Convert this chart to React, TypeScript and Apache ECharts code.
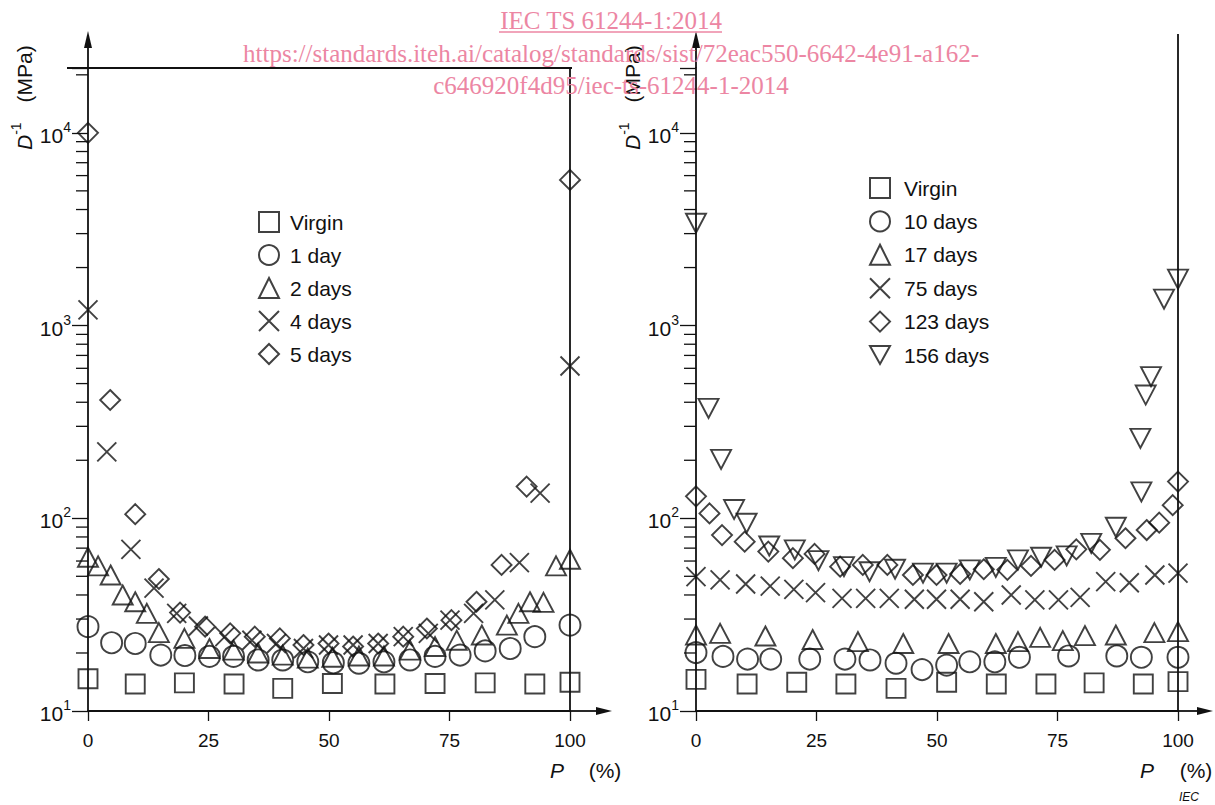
import React, { useEffect, useRef } from 'react';
import * as echarts from 'echarts';

// ---------- data ----------
const xTickValues = [0, 25, 50, 75, 100];
const yMinorTicks = [20, 30, 40, 50, 60, 70, 80, 90, 200, 300, 400, 500, 600, 700, 800, 900, 2000, 3000, 4000, 5000, 6000, 7000, 8000, 9000, 20000];

const leftNames = ['Virgin', '1 day', '2 days', '4 days', '5 days'];
const rightNames = ['Virgin', '10 days', '17 days', '75 days', '123 days', '156 days'];

// Left panel
const L_virgin = [[0, 14.7], [9.8, 13.8], [20, 14.0], [30.3, 13.8], [40.4, 13.1], [50.7, 13.9], [61.6, 13.8], [72, 13.9], [82.4, 14.0], [92.7, 13.8], [100, 14.1]];
const L_1day = [[0, 27.4], [4.9, 22.6], [9.8, 22.4], [15.1, 19.5], [20.1, 19.4], [25.2, 19.2], [30.2, 19.2], [35.3, 18.4], [40.4, 18.4], [45.6, 18.0], [50.9, 17.8], [56.2, 17.7], [61.4, 18.0], [66.8, 18.4], [72, 19.2], [77.2, 19.5], [82.4, 20.5], [87.6, 21.1], [92.7, 24.3], [100, 27.9]];
const L_2days = [[0, 62.8], [2.1, 56.6], [4.7, 50.8], [7.2, 40.0], [9.8, 36.9], [12.2, 32.1], [14.7, 25.5], [20, 23.8], [25.2, 21.1], [30.2, 20.7], [35.3, 20.0], [40.4, 19.5], [45.6, 18.8], [50.7, 19.0], [56.2, 19.3], [61.4, 19.3], [66.8, 20.7], [72, 21.6], [76.5, 23.3], [81.7, 24.8], [86.9, 27.9], [89.3, 32.1], [91.7, 36.9], [94.5, 36.6], [97.1, 56.6], [100, 61.3]];
const L_4days = [[0, 1206], [3.9, 221], [8.9, 69.0], [13.7, 43.4], [18.4, 32.1], [22.9, 27.6], [28.4, 24.3], [34, 23.3], [39.1, 22.4], [44.7, 21.1], [49.9, 22.0], [55.0, 22.0], [60.2, 22.4], [65.4, 24.3], [70.6, 25.3], [75.1, 29.6], [80, 32.1], [84.4, 37.7], [89.5, 58.9], [93.8, 135], [100, 617]];
const L_5days = [[0, 10000], [4.6, 411], [9.8, 105], [14.7, 48.4], [19.1, 32.4], [24.3, 27.4], [29.5, 25.3], [34.6, 24.3], [39.8, 23.8], [44.7, 22.0], [49.9, 22.4], [55, 21.6], [60.2, 22.4], [65.4, 24.3], [70.3, 26.8], [75.4, 29.6], [80.6, 36.9], [85.8, 57.3], [91, 146], [100, 5700]];

// Right panel
const R_virgin = [[0, 14.6], [10.6, 13.8], [20.9, 14.1], [31.1, 13.8], [41.5, 13.1], [52, 14.1], [62.3, 13.8], [72.6, 13.8], [82.6, 14.0], [92.8, 13.8], [100, 14.2]];
const R_10days = [[0, 20.1], [5.6, 19.2], [10.7, 18.6], [15.5, 18.6], [23.6, 18.6], [30.9, 18.6], [36.1, 18.4], [41.5, 17.7], [46.9, 16.4], [52, 17.3], [56.8, 18.0], [62, 18.0], [67.1, 19.0], [77.3, 19.3], [87.3, 19.3], [92.4, 19.0], [100, 19.0]];
const R_17days = [[0, 24.8], [5.0, 25.3], [14.4, 24.5], [24.2, 23.5], [33.6, 22.9], [43.0, 22.4], [52.4, 22.4], [62.2, 22.4], [66.8, 22.9], [71.4, 24.1], [76.1, 23.2], [80.7, 24.6], [87.1, 24.8], [95.1, 25.5], [100, 25.8]];
const R_75days = [[0, 49.8], [5.0, 47.9], [10.3, 45.6], [15.4, 44.5], [20.3, 42.8], [24.8, 41.1], [30.3, 38.4], [35.2, 38.4], [40.1, 38.4], [45.3, 38.0], [49.9, 38.0], [54.8, 38.0], [59.7, 36.9], [65.4, 40.0], [70.3, 37.7], [75.2, 37.7], [79.7, 38.9], [85.0, 46.9], [89.9, 46.3], [95.2, 50.8], [100, 51.9]];
const R_123days = [[0, 130], [2.8, 106], [5.4, 81.8], [10.1, 75.6], [15.0, 67.2], [20.1, 62.1], [24.6, 65.3], [29.9, 56.1], [34.6, 57.3], [39.7, 57.3], [45.0, 50.8], [49.9, 50.8], [54.8, 51.4], [59.7, 54.4], [64.6, 54.0], [69.5, 56.6], [74.4, 60.8], [78.9, 69.0], [83.8, 68.6], [89.1, 78.8], [93.5, 86.9], [96.1, 94.9], [98.9, 117], [100, 155]];
const R_156days = [[0, 3395], [2.6, 372], [5.2, 202], [7.9, 111], [10.5, 94.2], [15.2, 71.8], [20.5, 68.5], [25.4, 60.3], [30.7, 56.1], [36.0, 52.8], [41.3, 54.4], [47.1, 51.9], [52, 51.9], [56.8, 54.0], [62.2, 55.6], [66.8, 60.8], [71.6, 62.8], [76.9, 63.8], [82.0, 74.1], [87.1, 89.8], [92.4, 137], [92.2, 260], [93.3, 436], [94.4, 543], [97.1, 1371], [100, 1741]];

const leftData = [L_virgin, L_1day, L_2days, L_4days, L_5days];
const rightData = [R_virgin, R_10days, R_17days, R_75days, R_123days, R_156days];

// ---------- styles ----------
const SANS = 'Liberation Sans, Arial, sans-serif';
const SERIF = 'Liberation Serif, Times New Roman, serif';
const INK = '#111';
const PINK = '#ec86a3';

const SYM: Record<string, { symbol: string; size: number | number[] }> = {
  square: { symbol: 'rect', size: 19 },
  circle: { symbol: 'circle', size: 21 },
  tri: { symbol: 'triangle', size: [20, 19] },
  cross: { symbol: 'path://M0,0L20,20M20,0L0,20', size: 19 },
  diamond: { symbol: 'diamond', size: 20 },
  down: { symbol: 'path://M0,0L20,0L10,18Z', size: [20, 19] },
};
const leftSyms = ['square', 'circle', 'tri', 'cross', 'diamond'];
const rightSyms = ['square', 'circle', 'tri', 'cross', 'diamond', 'down'];

function scatter(name: string, data: number[][], sym: string, idx: number) {
  return {
    type: 'scatter',
    name,
    xAxisIndex: idx,
    yAxisIndex: idx,
    data,
    clip: false,
    symbol: SYM[sym].symbol,
    symbolSize: SYM[sym].size,
    itemStyle: { color: 'rgba(255,255,255,0)', borderColor: INK, borderWidth: 1.9 },
    emphasis: { disabled: true },
  };
}

function minorTickSeries(idx: number) {
  return {
    type: 'custom',
    xAxisIndex: idx,
    yAxisIndex: idx,
    silent: true,
    clip: false,
    data: yMinorTicks.map((v) => [0, v]),
    renderItem: (_p: any, api: any) => {
      const pt = api.coord([0, api.value(1)]);
      return {
        type: 'line',
        shape: { x1: pt[0] - 12, y1: pt[1], x2: pt[0], y2: pt[1] },
        style: { stroke: INK, lineWidth: 1.3 },
      };
    },
  };
}

function xAxis(idx: number) {
  return {
    type: 'value',
    gridIndex: idx,
    min: 0,
    max: 100,
    interval: 25,
    axisLine: { show: true, onZero: false, lineStyle: { color: INK, width: 1.8 } },
    axisTick: { show: true, length: 10, lineStyle: { color: INK, width: 1.3 } },
    axisLabel: { margin: 20, fontSize: 19, color: INK, fontFamily: SANS, formatter: (v: number) => (xTickValues.includes(v) ? String(v) : '') },
    splitLine: { show: false },
  };
}

function yAxis(idx: number) {
  return {
    type: 'log',
    logBase: 10,
    gridIndex: idx,
    min: 10,
    max: 21700,
    axisLine: { show: true, onZero: false, lineStyle: { color: INK, width: 1.8 } },
    axisTick: { show: true, length: 16, lineStyle: { color: INK, width: 1.3 } },
    axisLabel: {
      margin: 17,
      color: INK,
      formatter: (v: number) => {
        const e = Math.log10(v);
        if (Math.abs(e - Math.round(e)) > 0.01) return '';
        return `{b|10}{s|${Math.round(e)}}`;
      },
      rich: {
        b: { fontSize: 21, fontFamily: SANS, color: INK, lineHeight: 26, verticalAlign: 'bottom' },
        s: { fontSize: 14, fontFamily: SANS, color: INK, lineHeight: 26, verticalAlign: 'top' },
      },
    },
    splitLine: { show: false },
    minorTick: { show: false },
  };
}

function line(x1: number, y1: number, x2: number, y2: number, w = 1.8) {
  return { type: 'line', silent: true, shape: { x1, y1, x2, y2 }, style: { stroke: INK, lineWidth: w } };
}
function poly(points: number[][]) {
  return { type: 'polygon', silent: true, shape: { points }, style: { fill: INK } };
}
function yTitle(x: number, y: number) {
  return {
    type: 'text',
    x,
    y,
    rotation: Math.PI / 2,
    silent: true,
    style: {
      text: '{i|D}{s|-1}{g| }{n|(MPa)}',
      align: 'left',
      verticalAlign: 'middle',
      rich: {
        i: { fontSize: 21, fontFamily: SANS, fontStyle: 'italic', fill: INK, lineHeight: 26, verticalAlign: 'bottom' },
        s: { fontSize: 14, fontFamily: SANS, fill: INK, lineHeight: 26, verticalAlign: 'top' },
        g: { width: 20, fontSize: 14, lineHeight: 26 },
        n: { fontSize: 21, fontFamily: SANS, fill: INK, lineHeight: 26, verticalAlign: 'bottom' },
      },
    },
  };
}
function txt(text: string, x: number, y: number, size: number, opts: any = {}) {
  return {
    type: 'text',
    x,
    y,
    silent: true,
    style: { text, fontSize: size, fontFamily: SANS, fill: INK, align: 'center', verticalAlign: 'middle', ...opts },
  };
}

export default function App() {
  const ref = useRef<HTMLDivElement>(null);
  useEffect(() => {
    if (!ref.current) return;
    const chart = echarts.init(ref.current, undefined, { renderer: 'svg' });
    const series: any[] = [];
    leftNames.forEach((n, i) => series.push(scatter(n, leftData[i], leftSyms[i], 0)));
    rightNames.forEach((n, i) => series.push(scatter(n, rightData[i], rightSyms[i], 1)));
    series.push(minorTickSeries(0));
    series.push(minorTickSeries(1));

    const legendCommon = {
      orient: 'vertical',
      selectedMode: false,
      padding: 0,
      itemWidth: 20,
      itemHeight: 20,
    };

    chart.setOption({
      animation: false,
      backgroundColor: '#fff',
      grid: [
        { left: 88, right: 1215 - 570, top: 68, bottom: 805 - 711 },
        { left: 696, right: 1215 - 1178, top: 68, bottom: 805 - 711 },
      ],
      xAxis: [xAxis(0), xAxis(1)],
      yAxis: [yAxis(0), yAxis(1)],
      legend: [
        {
          ...legendCommon, left: 258, top: 211, itemGap: 33 - 22, data: leftNames,
          textStyle: { fontSize: 21, fontFamily: SANS, color: INK, lineHeight: 22, padding: [0, 0, 0, 6] },
        },
        {
          ...legendCommon, left: 869, top: 177, itemGap: 33.4 - 22, data: rightNames,
          textStyle: { fontSize: 21, fontFamily: SANS, color: INK, lineHeight: 22, padding: [0, 0, 0, 9] },
        },
      ],
      series,
      graphic: [
        // left panel frame and arrows
        line(67, 68, 572, 68),
        line(570, 68, 570, 711),
        line(88, 68, 88, 46),
        poly([[88, 31], [84, 48], [92, 48]]),
        line(570, 711, 598, 711),
        poly([[612, 711], [596, 707], [596, 715]]),
        // right panel frame and arrows
        line(1178, 34, 1178, 711),
        line(696, 68, 696, 46),
        poly([[696, 31], [692, 48], [700, 48]]),
        line(1178, 711, 1200, 711),
        poly([[1213, 711], [1197, 707], [1197, 715]]),
        // axis titles
        yTitle(22, 150),
        yTitle(630, 150),
        txt('P', 557, 770, 21, { fontStyle: 'italic' }),
        txt('(%)', 605, 770, 21),
        txt('P', 1147, 770, 21, { fontStyle: 'italic' }),
        txt('(%)', 1196, 770, 21),
        txt('IEC', 1189, 797, 12, { fontStyle: 'italic' }),
        // watermark
        txt('IEC TS 61244-1:2014', 611, 20, 25, { fontFamily: SERIF, fill: PINK }),
        { type: 'line', silent: true, shape: { x1: 499, y1: 32, x2: 722, y2: 32 }, style: { stroke: PINK, lineWidth: 1.3 } },
        txt('https://standards.iteh.ai/catalog/standards/sist/72eac550-6642-4e91-a162-', 611, 53, 25, { fontFamily: SERIF, fill: PINK }),
        txt('c646920f4d95/iec-ts-61244-1-2014', 611, 85, 25, { fontFamily: SERIF, fill: PINK }),
      ],
    });
    return () => chart.dispose();
  }, []);
  return <div ref={ref} style={{ position: 'fixed', left: 0, top: 0, width: 1215, height: 805 }} />;
}
